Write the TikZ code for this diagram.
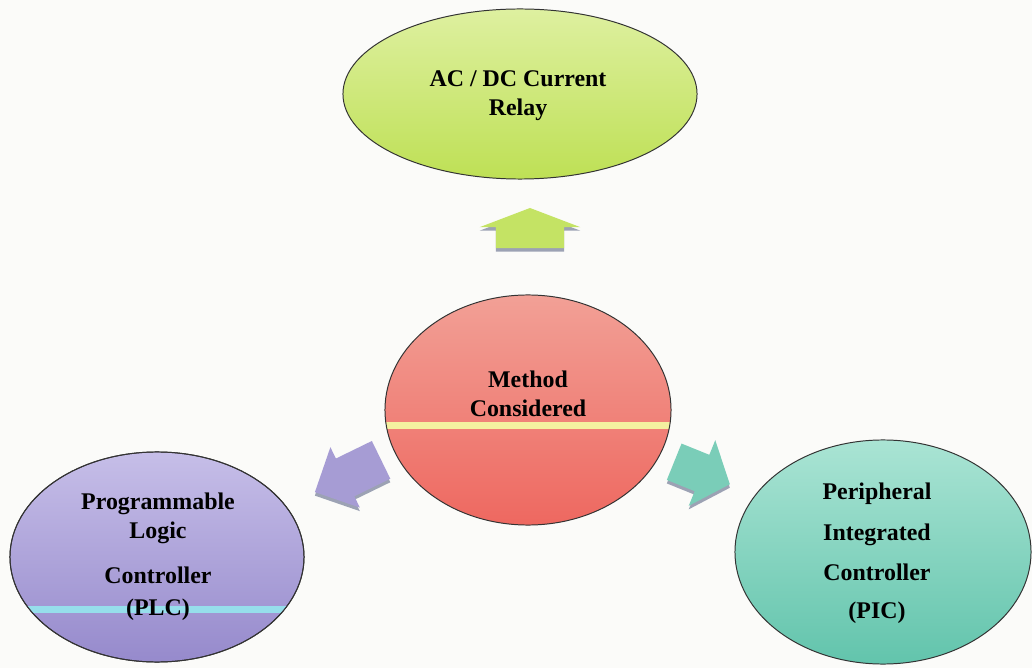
\documentclass[tikz,border=0pt]{standalone}
\usepackage{fontspec}
\setmainfont{Liberation Serif}
\usepackage{xcolor}
\usetikzlibrary{shapes.geometric,calc}
\definecolor{clrBg}{RGB}{251,251,249}
\definecolor{clrLimeT}{RGB}{222,240,160}
\definecolor{clrLimeB}{RGB}{190,224,85}
\definecolor{clrRedT}{RGB}{242,160,150}
\definecolor{clrRedB}{RGB}{238,104,96}
\definecolor{clrPurT}{RGB}{198,190,232}
\definecolor{clrPurB}{RGB}{150,138,204}
\definecolor{clrTealT}{RGB}{170,228,212}
\definecolor{clrTealB}{RGB}{98,196,172}
\definecolor{clrStripeY}{RGB}{244,240,160}
\definecolor{clrStripeC}{RGB}{150,222,235}
\definecolor{clrShadow}{RGB}{90,100,130}
% block arrow: #1 centre, #2 angle, #3 length, #4 shaft, #5 head, #6 head length, #7 fill
\newcommand{\blockarrow}[7]{%
  \foreach \dy/\clr in {-2.5pt/clrShadow!60, 0pt/#7} {
    \fill[\clr,shift={(#1)},yshift=\dy,rotate=#2]
      (-#3/2,-#4/2) -- (#3/2-#6,-#4/2) -- (#3/2-#6,-#5/2) -- (#3/2,0)
      -- (#3/2-#6,#5/2) -- (#3/2-#6,#4/2) -- (-#3/2,#4/2) -- cycle;
  }}
\tikzset{
  oval/.style={ellipse,draw=black!80,line width=0.7pt,inner sep=0pt},
  ovaltext/.style={font=\fontsize{17}{20.5}\selectfont\bfseries,align=center,inner sep=0pt},
  stripe/.style={path picture={\fill[#1]
    ($(path picture bounding box.west)+(0,-0.30cm)$) rectangle
    ($(path picture bounding box.east)+(0,-0.47cm)$);}}
}
\begin{document}
\begin{tikzpicture}[x=0.025cm,y=-0.025cm]
  \fill[clrBg] (0,0) rectangle (1032,668);
  \useasboundingbox (0,0) rectangle (1032,668);
  % ovals
  \node[oval,top color=clrLimeT,bottom color=clrLimeB,
    minimum width=8.85cm,minimum height=4.25cm] (relay) at (520,94) {};
  \node[oval,top color=clrRedT,bottom color=clrRedB,
    minimum width=7.15cm,minimum height=5.75cm,stripe=clrStripeY] (method) at (528,410) {};
  \node[oval,top color=clrPurT,bottom color=clrPurB,
    minimum width=7.35cm,minimum height=5.25cm] (plc) at (157,557) {};
  \node[oval,top color=clrTealT,bottom color=clrTealB,
    minimum width=7.4cm,minimum height=5.6cm] (pic) at (883,552) {};
  % cyan band in the PLC oval
  \begin{scope}
    \clip (plc.center) ellipse [x radius=3.66cm,y radius=2.61cm];
    \fill[clrStripeC] (0,606) rectangle (320,613);
  \end{scope}
  \draw[black!80,line width=0.7pt] (plc.center) ellipse [x radius=3.675cm,y radius=2.625cm];
  % texts
  \node[ovaltext] (relaytxt) at (518,96) {AC / DC Current\\Relay};
  \node[ovaltext] (methodtxt) at (528,394) {Method\\Considered};
  \node[ovaltext] (plctxt) at (158,557)
    {Programmable\\Logic\\[11.5pt]Controller\\[2.5pt](PLC)};
  \node[ovaltext] (pictxt) at (877,553)
    {Peripheral\\[8.5pt]Integrated\\[8.5pt]Controller\\[6pt](PIC)};
  % arrows
  \coordinate (uparrow) at (530,228);
  \coordinate (leftarrow) at (348,476);
  \coordinate (rightarrow) at (702,473);
  \blockarrow{uparrow}{90}{1.0cm}{1.7cm}{2.52cm}{0.48cm}{clrLimeB!80!clrLimeT}
  \blockarrow{leftarrow}{206}{1.84cm}{1.05cm}{1.68cm}{0.84cm}{clrPurB!85!white}
  \blockarrow{rightarrow}{-22}{1.5cm}{0.98cm}{1.77cm}{0.75cm}{clrTealB!85!white}
\end{tikzpicture}
\end{document}
